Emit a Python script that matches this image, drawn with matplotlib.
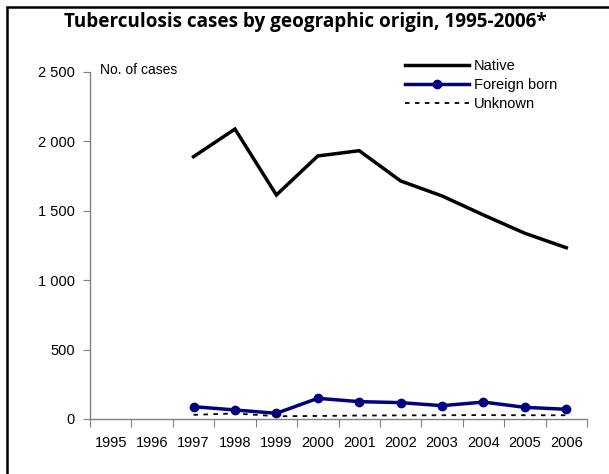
import matplotlib
matplotlib.use("Agg")
import matplotlib.pyplot as plt
from matplotlib.patches import Rectangle
import numpy as np

years = ["1995", "1996", "1997", "1998", "1999", "2000", "2001", "2002", "2003", "2004", "2005", "2006"]
native = [None, None, 1890, 2089, 1614, 1895, 1933, 1715, 1607, 1470, 1338, 1234]
foreign = [None, None, 89, 65, 41, 149, 125, 118, 96, 122, 84, 70]
unknown = [None, None, 30, 40, 20, 22, 25, 26, 27, 28, 27, 27]
yticks = [0, 500, 1000, 1500, 2000, 2500]
ytick_labels = ["0", "500", "1 000", "1 500", "2 000", "2 500"]

plt.rcParams['font.family'] = ['Liberation Sans', 'DejaVu Sans']

W, H = 609, 474
fig = plt.figure(figsize=(W / 100, H / 100), dpi=100)
ax = fig.add_axes([90 / W, 1 - 419 / H, (587 - 90) / W, (419 - 72) / H])

x = np.arange(len(years))

def arr(v):
    return np.array([np.nan if a is None else a for a in v], dtype=float)

ax.plot(x, arr(native), color='black', lw=2.5, label='Native', solid_joinstyle='miter')
ax.plot(x, arr(foreign), color='#000080', lw=2.5, marker='o', ms=6, label='Foreign born')
ax.plot(x, arr(unknown), color='black', lw=1.3, ls=(0, (2.5, 3)), label='Unknown')

ax.set_xlim(-0.5, len(years) - 0.5)
ax.set_ylim(0, 2500)
ax.set_yticks(yticks)
ax.set_yticklabels(ytick_labels, fontsize=10.5)
ax.set_xticks(np.arange(len(years) + 1) - 0.5)
ax.set_xticklabels([])
ax.set_xticks(x, minor=True)
ax.set_xticklabels(years, minor=True, fontsize=10.5)
ax.tick_params(axis='x', which='minor', length=0, pad=12)
ax.tick_params(axis='x', which='major', length=6, color='#808080', direction='out')
ax.tick_params(axis='y', length=5, color='#808080', direction='out', pad=6)

for s in ['top', 'right']:
    ax.spines[s].set_visible(False)
for s in ['left', 'bottom']:
    ax.spines[s].set_color('#808080')
    ax.spines[s].set_linewidth(1.0)

ax.text(100 / W, 1 - 70 / H, "No. of cases", transform=fig.transFigure, fontsize=10,
        ha='left', va='center')

leg = ax.legend(loc='upper left', bbox_to_anchor=(398 / W, 1 - 52 / H),
                bbox_transform=fig.transFigure, frameon=False, fontsize=10.5,
                handlelength=4.4, handletextpad=0.3, labelspacing=0.32, borderpad=0)

fig.text(305 / W, 1 - 22 / H, "Tuberculosis cases by geographic origin, 1995-2006*",
         ha='center', va='center', fontsize=13.6, fontweight='bold',
         family=['Open Sans', 'DejaVu Sans'], fontstretch='condensed')

fig.add_artist(Rectangle((7 / W, -0.05), 1.1, 1 - 7 / H + 0.05, transform=fig.transFigure,
                         fill=False, edgecolor='black', lw=1.8))

fig.savefig("out.png", dpi=100)
